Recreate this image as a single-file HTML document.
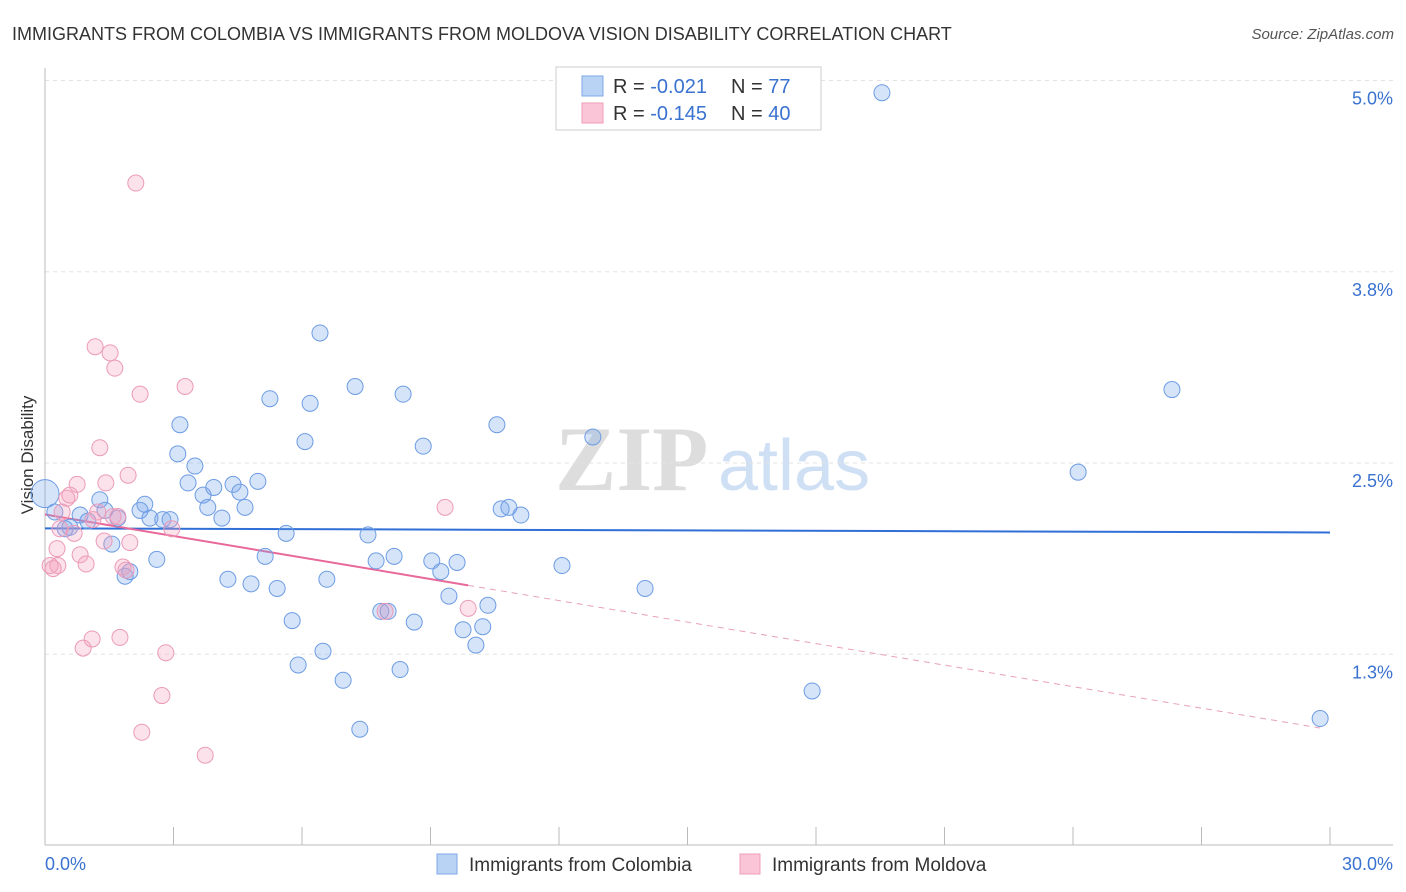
<!DOCTYPE html>
<html><head><meta charset="utf-8"><style>
body{margin:0;background:#fff;font-family:"Liberation Sans",sans-serif;}
svg{display:block}
</style></head><body>
<svg id="chart" width="1406" height="892" xmlns="http://www.w3.org/2000/svg">
<text x="12" y="40" font-size="18" fill="#333">IMMIGRANTS FROM COLOMBIA VS IMMIGRANTS FROM MOLDOVA VISION DISABILITY CORRELATION CHART</text>
<text x="1394" y="39" font-size="15" fill="#555" font-style="italic" text-anchor="end">Source: ZipAtlas.com</text>
<text x="33" y="455" font-size="17" fill="#333" transform="rotate(-90 33 455)" text-anchor="middle">Vision Disability</text>
<g><text x="555" y="490" font-size="92" fill="#ddd" font-family="Liberation Serif,serif" font-weight="bold">ZIP</text><text x="718" y="490" font-size="72" fill="#cfe0f5">atlas</text></g>
<g id="grid"></g><g id="axes"></g><g id="lines"></g><g id="pts"></g>
<g>
<rect x="556" y="67" width="265" height="63" fill="#fff" stroke="#ccc"/>
<rect x="582" y="76" width="21" height="20" fill="#b9d3f5" stroke="#7fa9e6"/>
<rect x="582" y="103" width="21" height="20" fill="#fac5d6" stroke="#ee9db9"/>
<text x="613" y="93" font-size="20" fill="#333">R = <tspan fill="#3a72d0">-0.021</tspan></text>
<text x="731" y="93" font-size="20" fill="#333">N = <tspan fill="#3a72d0"> 77</tspan></text>
<text x="613" y="120" font-size="20" fill="#333">R = <tspan fill="#3a72d0">-0.145</tspan></text>
<text x="731" y="120" font-size="20" fill="#333">N = <tspan fill="#3a72d0"> 40</tspan></text>
</g>
<g>
<rect x="437" y="854" width="20" height="20" fill="#b9d3f5" stroke="#7fa9e6"/>
<text x="469" y="871" font-size="19" fill="#333">Immigrants from Colombia</text>
<rect x="740" y="854" width="20" height="20" fill="#fac5d6" stroke="#ee9db9"/>
<text x="772" y="871" font-size="19" fill="#333">Immigrants from Moldova</text>
</g>
</svg>
<script>
const yTicks=[5.0,3.75,2.5,1.25];
const yTickLabels=["5.0%","3.8%","2.5%","1.3%"];
const xTickLabels=["0.0%","30.0%"];
const blueX=[0,0.23,0.47,0.58,0.82,1.0,1.28,1.4,1.56,1.7,1.87,1.98,2.22,2.33,2.45,2.61,2.75,2.92,3.15,3.1,3.34,3.5,3.69,3.8,3.94,4.13,4.27,4.39,4.55,4.67,4.81,4.97,5.14,5.25,5.42,5.63,5.77,5.91,6.07,6.19,6.42,6.49,6.58,6.96,7.24,7.35,7.54,7.73,7.84,8.01,8.15,8.29,8.36,8.62,8.83,9.03,9.24,9.43,9.62,9.76,10.06,10.22,10.34,10.55,10.65,10.83,11.11,12.07,12.79,14.01,17.91,19.54,24.12,26.31,29.77];
const blueY=[2.3,2.18,2.07,2.08,2.16,2.12,2.26,2.19,1.97,2.14,1.76,1.79,2.19,2.23,2.14,1.87,2.13,2.13,2.75,2.56,2.37,2.48,2.29,2.21,2.34,2.14,1.74,2.36,2.31,2.21,1.71,2.38,1.89,2.92,1.68,2.04,1.47,1.18,2.64,2.89,3.35,1.27,1.74,1.08,3.0,0.76,2.03,1.86,1.53,1.53,1.89,1.15,2.95,1.46,2.61,1.86,1.79,1.63,1.85,1.41,1.31,1.43,1.57,2.75,2.2,2.21,2.16,1.83,2.67,1.68,1.01,4.92,2.44,2.98,0.83];
const pinkX=[0.12,0.19,0.3,0.28,0.4,0.51,0.58,0.68,0.75,0.82,0.89,0.96,1.1,1.17,1.23,1.28,1.38,1.42,1.52,1.63,1.7,1.75,1.82,1.94,1.98,2.12,2.22,2.26,2.73,2.82,2.96,3.27,3.74,7.94,9.34,9.88,1.59,1.12,0.35,1.89];
const pinkY=[1.83,1.81,1.83,1.94,2.18,2.27,2.29,2.04,2.36,1.9,1.29,1.84,1.35,3.26,2.18,2.6,1.99,2.37,3.22,3.12,2.15,1.36,1.82,2.42,1.98,4.33,2.95,0.74,0.98,1.26,2.07,3.0,0.59,1.53,2.21,1.55,2.15,2.13,2.07,1.8];
const X0=45,X1=1330;
const xs=v=>X0+(X1-X0)*v/30;
const ys=v=>463-(v-2.5)*153;
const NS="http://www.w3.org/2000/svg";
function mk(t,a,p){const e=document.createElementNS(NS,t);for(const k in a)e.setAttribute(k,a[k]);p.appendChild(e);return e;}
const grid=document.getElementById('grid'),axes=document.getElementById('axes'),lines=document.getElementById('lines'),pts=document.getElementById('pts');
yTicks.forEach((v,i)=>{
 const l=mk('line',{x1:X0,x2:1393,y1:ys(v),y2:ys(v),stroke:'#e3e3e3','stroke-dasharray':'4,4'},grid);
 
 
 const t=mk('text',{x:1393,y:ys(v)+24,'font-size':18,fill:'#3a72d0','text-anchor':'end'},axes);
 t.textContent=yTickLabels[i];
 
 
});
const ax=mk('line',{x1:X0,x2:1393,y1:845,y2:845,stroke:'#bbb'},axes);


const ay=mk('line',{x1:X0,x2:X0,y1:68,y2:845,stroke:'#bbb'},axes);


for(let i=0;i<=10;i++){const x=xs(i*3);const tk=mk('line',{x1:x,x2:x,y1:827,y2:845,stroke:'#bbb'},axes);
 
 }
[[0,'start',45],[1,'end',1393]].forEach(([i,a,x])=>{const t=mk('text',{x:x,y:870,'font-size':18,fill:'#3a72d0','text-anchor':a},axes);t.textContent=xTickLabels[i];
 
 });
function lin(X,Y){const n=X.length,mx=X.reduce((a,b)=>a+b)/n,my=Y.reduce((a,b)=>a+b)/n;let sxy=0,sxx=0;for(let i=0;i<n;i++){sxy+=(X[i]-mx)*(Y[i]-my);sxx+=(X[i]-mx)**2;}const b=sxy/sxx;return [my-b*mx,b];}
const [ba,bb]=lin(blueX,blueY);
const bl=mk('line',{x1:xs(0),y1:ys(ba),x2:xs(30),y2:ys(ba+bb*30),stroke:'#2f6fd6','stroke-width':2},lines);


const [pa,pb]=lin(pinkX,pinkY);
const pmax=Math.max(...pinkX);
const pl=mk('line',{x1:xs(0),y1:ys(pa),x2:xs(pmax),y2:ys(pa+pb*pmax),stroke:'#e8689a','stroke-width':2},lines);


const pd=mk('line',{x1:xs(pmax),y1:ys(pa+pb*pmax),x2:xs(29.8),y2:ys(pa+pb*29.8),stroke:'#e8a0bb','stroke-width':1,'stroke-dasharray':'6,5'},lines);


blueX.forEach((x,i)=>{const c=mk('circle',{cx:xs(x),cy:ys(blueY[i]),r:i==0?14:8,fill:'rgba(120,165,235,0.3)',stroke:'#6d9ce3','stroke-width':1},pts);
 
 });
pinkX.forEach((x,i)=>{const c=mk('circle',{cx:xs(x),cy:ys(pinkY[i]),r:8,fill:'rgba(245,160,190,0.3)',stroke:'#eb9bb8','stroke-width':1},pts);
 
 });
</script>
</body></html>
